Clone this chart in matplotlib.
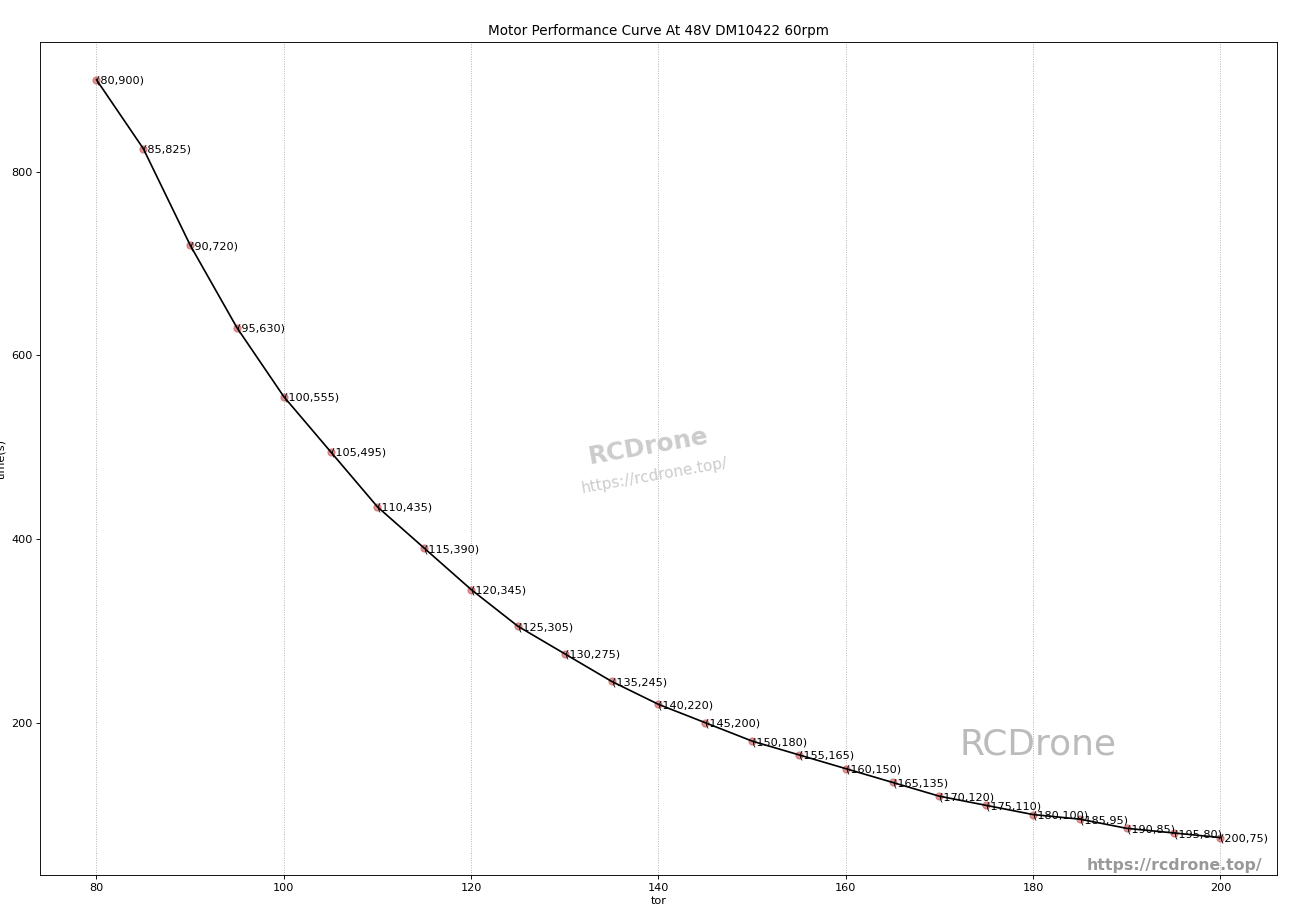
import matplotlib.pyplot as plt

tor = [80, 85, 90, 95, 100, 105, 110, 115, 120, 125, 130, 135, 140, 145,
       150, 155, 160, 165, 170, 175, 180, 185, 190, 195, 200]
time_s = [900, 825, 720, 630, 555, 495, 435, 390, 345, 305, 275, 245, 220, 200,
          180, 165, 150, 135, 120, 110, 100, 95, 85, 80, 75]

# the reference looks like a larger figure scaled down, so draw at 81 dpi
fig, ax = plt.subplots(figsize=(1300 / 81, 910 / 81), dpi=81)
fig.subplots_adjust(left=0.031, right=0.982, top=0.954, bottom=0.038)

ax.scatter(tor, time_s, s=40, color='#c85050', alpha=0.6, zorder=2)
ax.plot(tor, time_s, color='black', linewidth=1.5, zorder=3)

for x, y in zip(tor, time_s):
    ax.annotate('({},{})'.format(x, y), xy=(x, y), xytext=(0, -1),
                textcoords='offset points', ha='left', va='center', fontsize=10)

ax.set_title('Motor Performance Curve At 48V DM10422 60rpm')
ax.set_xlabel('tor', labelpad=2)
ax.set_ylabel('time(s)')
ax.yaxis.set_label_coords(-0.0275, 0.5)
ax.set_yticks([200, 400, 600, 800])
ax.grid(axis='x', linestyle=':', color='#aaaaaa', linewidth=0.8)

# watermarks
ax.text(0.492, 0.514, 'RCDrone', transform=ax.transAxes, fontsize=22,
        color='#cccccc', rotation=10, ha='center', va='center', weight='semibold')
ax.text(0.497, 0.48, 'https://rcdrone.top/', transform=ax.transAxes, fontsize=13.5,
        color='#cccccc', rotation=10, ha='center', va='center')
ax.text(0.807, 0.157, 'RCDrone', transform=ax.transAxes, fontsize=32,
        color='#bbbbbb', ha='center', va='center')
ax.text(0.917, 0.012, 'https://rcdrone.top/', transform=ax.transAxes, fontsize=14,
        color='#999999', ha='center', va='center', weight='bold')

fig.savefig('out.png')
